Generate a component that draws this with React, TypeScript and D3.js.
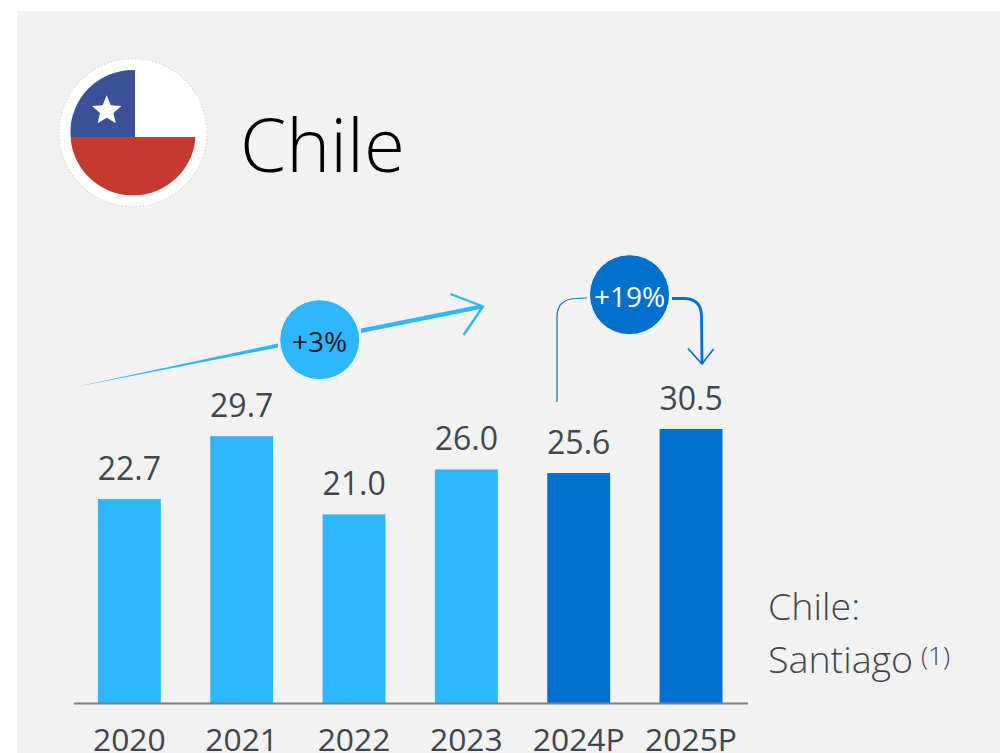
import React from "react";
import * as d3 from "d3";

const years = ["2020", "2021", "2022", "2023", "2024P", "2025P"];
const values = [22.7, 29.7, 21.0, 26.0, 25.6, 30.5];
const valueLabels = ["22.7", "29.7", "21.0", "26.0", "25.6", "30.5"];
const forecastYears = ["2024P", "2025P"];

const W = 1000;
const H = 753;
const FONT = "'Open Sans', sans-serif";
const LIGHT_BLUE = "#2db7ff";
const DARK_BLUE = "#0070cf";
const TEXT = "#41464e";

const x = d3.scaleBand<string>().domain(years).range([73.2, 747.2]).paddingInner(0.44).paddingOuter(0.22);
const y = d3.scaleLinear().domain([0, 30.5]).range([703, 429]);

// Five-pointed star path for the flag canton
function starPath(cx: number, cy: number, outer: number, inner: number) {
  const pts: [number, number][] = d3.range(10).map((i) => {
    const r = i % 2 === 0 ? outer : inner;
    const a = -Math.PI / 2 + (i * Math.PI) / 5;
    return [cx + r * Math.cos(a), cy + r * Math.sin(a)];
  });
  return d3.line()(pts) + "Z";
}

function Flag() {
  const cx = 133;
  const cy = 132.7;
  const r = 62.7;
  const midY = 137;
  const canton = 135;
  return (
    <g>
      <defs>
        <clipPath id="flag-clip">
          <circle cx={cx} cy={cy} r={r} />
        </clipPath>
      </defs>
      <circle cx={cx} cy={cy} r={74} fill="#ffffff" stroke="#e6dcb8" strokeWidth={1.2} strokeDasharray="1.5 2" />
      <g clipPath="url(#flag-clip)">
        <rect x={cx - r} y={cy - r} width={r * 2} height={midY - cy + r} fill="#ffffff" />
        <rect x={cx - r} y={cy - r} width={canton - cx + r} height={midY - cy + r} fill="#3a5199" />
        <rect x={cx - r} y={midY} width={r * 2} height={cy + r - midY} fill="#c5392f" />
      </g>
      <path d={starPath(106.7, 110.8, 15.5, 7)} fill="#ffffff" />
    </g>
  );
}

function GrowthArrows() {
  return (
    <g>
      {/* Historic growth: a stroke that thickens towards its head */}
      <path d="M75,387 L278,343.5 L278,347.5 Z" fill={LIGHT_BLUE} />
      <path d="M361,328.5 L481,304.5 L483,308.5 L361,333 Z" fill={LIGHT_BLUE} />
      <path d="M450.5,294 L483,306.5 L463.5,335" fill="none" stroke={LIGHT_BLUE} strokeWidth={2.4} />
      <circle cx={319.7} cy={339.7} r={40} fill={LIGHT_BLUE} stroke="#f7f7f7" strokeWidth={1} />
      <text x={319.5} y={351.7} textAnchor="middle" fontSize={28} fontFamily={FONT} fill="#1a1a1a">+3%</text>

      {/* Forecast growth: elbow connector from the 2024P bar to the 2025P bar */}
      <path d="M557,402 L557,317 Q557,298.5 577,298.5 L587,298" fill="none" stroke={DARK_BLUE} strokeWidth={1.2} />
      <path d="M672,298.5 L685,298.5 Q701,299 701.5,316 L702,364" fill="none" stroke={DARK_BLUE} strokeWidth={2.8} />
      <path d="M688,348.5 L702,364 L713.5,349" fill="none" stroke={DARK_BLUE} strokeWidth={1.7} />
      <circle cx={629.5} cy={294.7} r={40} fill={DARK_BLUE} stroke="#f7f7f7" strokeWidth={1} />
      <text x={629.5} y={306.7} textAnchor="middle" fontSize={28} fontFamily={FONT} fill="#ffffff">+19%</text>
    </g>
  );
}

export default function App() {
  return (
    <svg width={W} height={H} viewBox={`0 0 ${W} ${H}`} style={{ position: "absolute", left: 0, top: 0, display: "block" }}>
      <rect width={W} height={H} fill="#ffffff" />
      <rect x={17} y={11} width={W - 17} height={H - 11} fill="#f2f2f2" />

      <Flag />
      <text x={240} y={172} fontSize={74.5} fontWeight={300} fontFamily={FONT} fill="#000000">Chile</text>

      {years.map((yr, i) => (
        <g key={yr}>
          <rect
            x={x(yr)}
            y={y(values[i])}
            width={x.bandwidth()}
            height={y(0) - y(values[i])}
            fill={forecastYears.includes(yr) ? DARK_BLUE : LIGHT_BLUE}
          />
          <text
            x={x(yr)! + x.bandwidth() / 2}
            y={y(values[i]) - 19.5}
            textAnchor="middle"
            fontSize={32}
            fontFamily={FONT}
            fill={TEXT}
          >
            {valueLabels[i]}
          </text>
          <text
            x={x(yr)! + x.bandwidth() / 2}
            y={751}
            textAnchor="middle"
            fontSize={31.8}
            fontFamily={FONT}
            fill={TEXT}
          >
            {yr}
          </text>
        </g>
      ))}
      <line x1={74} x2={748} y1={703.5} y2={703.5} stroke="#7f7f7f" strokeWidth={2} />

      <GrowthArrows />

      <text x={768} y={620} fontSize={37.6} fontWeight={300} fontFamily={FONT} fill={TEXT}>Chile:</text>
      <text x={768} y={673} fontSize={37.6} fontWeight={300} fontFamily={FONT} fill={TEXT}>Santiago</text>
      <text x={921} y={665} fontSize={26} fontWeight={300} fontFamily={FONT} fill={TEXT}>(1)</text>
    </svg>
  );
}
